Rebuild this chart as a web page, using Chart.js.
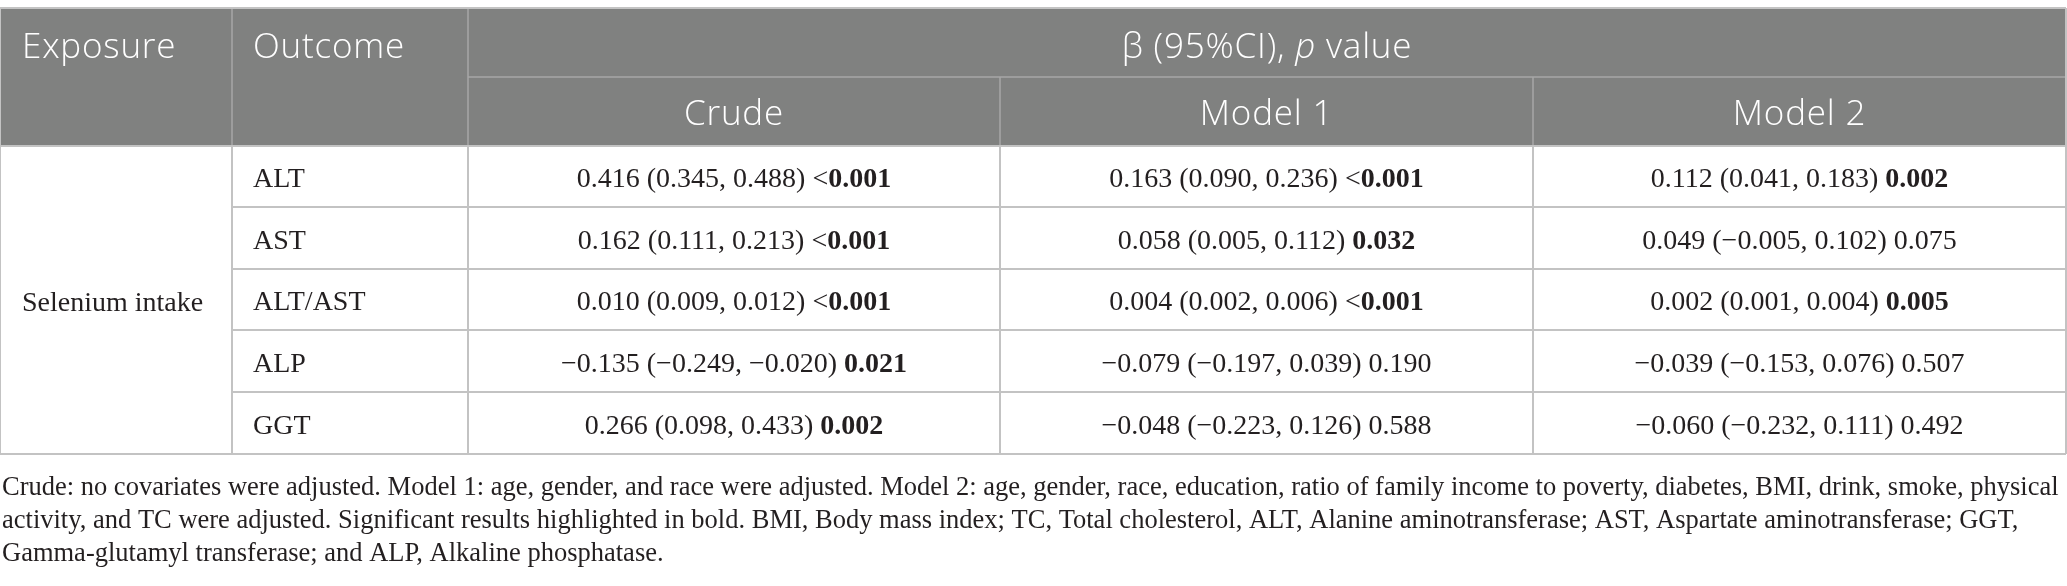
<!DOCTYPE html>
<html>
<head>
<meta charset="utf-8">
<script src="https://cdn.jsdelivr.net/npm/chart.js@4.4.1/dist/chart.umd.min.js"></script>
<style>
  html, body { margin: 0; padding: 0; background: #ffffff; }
  #wrap { width: 2067px; height: 586px; }
</style>
</head>
<body>
<div id="wrap"><canvas id="c" width="2067" height="586"></canvas></div>
<script>
// ---------- DATA ----------
const exposure = 'Selenium intake';
const outcomes = ['ALT', 'AST', 'ALT/AST', 'ALP', 'GGT'];
const models = ['Crude', 'Model 1', 'Model 2'];

const crudeBeta = [0.416, 0.162, 0.010, -0.135, 0.266];
const crudeLow  = [0.345, 0.111, 0.009, -0.249, 0.098];
const crudeHigh = [0.488, 0.213, 0.012, -0.020, 0.433];
const crudeP    = ['<0.001', '<0.001', '<0.001', '0.021', '0.002'];

const model1Beta = [0.163, 0.058, 0.004, -0.079, -0.048];
const model1Low  = [0.090, 0.005, 0.002, -0.197, -0.223];
const model1High = [0.236, 0.112, 0.006, 0.039, 0.126];
const model1P    = ['<0.001', '0.032', '<0.001', '0.190', '0.588'];

const model2Beta = [0.112, 0.049, 0.002, -0.039, -0.060];
const model2Low  = [0.041, -0.005, 0.001, -0.153, -0.232];
const model2High = [0.183, 0.102, 0.004, 0.076, 0.111];
const model2P    = ['0.002', '0.075', '0.005', '0.507', '0.492'];

const headerExposure = 'Exposure';
const headerOutcome = 'Outcome';
const captionLines = [
  'Crude: no covariates were adjusted. Model 1: age, gender, and race were adjusted. Model 2: age, gender, race, education, ratio of family income to poverty, diabetes, BMI, drink, smoke, physical',
  'activity, and TC were adjusted. Significant results highlighted in bold. BMI, Body mass index; TC, Total cholesterol, ALT, Alanine aminotransferase; AST, Aspartate aminotransferase; GGT,',
  'Gamma-glutamyl transferase; and ALP, Alkaline phosphatase.'
];

// ---------- LAYOUT (scale units) ----------
const colEdges = [0, 232, 468, 1000, 1533, 2066];
const headerEdges = [8, 77, 146];
const headerBaselines = [58, 125];
const rowEdges = [146, 207, 269, 330, 392, 454];
const captionBaselines = [495, 528, 561];

const modelData = [
  {beta: crudeBeta, low: crudeLow, high: crudeHigh, p: crudeP},
  {beta: model1Beta, low: model1Low, high: model1High, p: model1P},
  {beta: model2Beta, low: model2Low, high: model2High, p: model2P}
];

function fmt(v) {
  const s = Math.abs(v).toFixed(3);
  return (v < 0 ? '\u2212' : '') + s;
}

const SANS = '"Open Sans", "Noto Sans", sans-serif';
const SERIF = '"Liberation Serif", "DejaVu Serif", serif';
const HEADER_BG = '#808180';
const HEADER_LINE = '#a6a6a6';
const GRID = '#c3c3c3';
const HFONT = '300 35px ' + SANS;
const HFONT_I = 'italic 300 35px ' + SANS;
const HSPACING = '0.8px';

const tablePlugin = {
  id: 'tablePlugin',
  afterDraw(chart) {
    const ctx = chart.ctx;
    const xs = chart.scales.x, ys = chart.scales.y;
    const X = v => xs.getPixelForValue(v);
    const Y = v => ys.getPixelForValue(v);
    const cx = colEdges.map(X);
    const hy = headerEdges.map(Y);
    const ry = rowEdges.map(Y);
    ctx.save();

    // header background
    ctx.fillStyle = HEADER_BG;
    ctx.fillRect(cx[0], hy[0], cx[5] - cx[0], hy[2] - hy[0]);

    // header internal lines
    ctx.strokeStyle = HEADER_LINE;
    ctx.lineWidth = 1.5;
    ctx.beginPath();
    ctx.moveTo(cx[2], hy[1]); ctx.lineTo(cx[5], hy[1]);
    ctx.moveTo(cx[1], hy[0]); ctx.lineTo(cx[1], hy[2]);
    ctx.moveTo(cx[2], hy[0]); ctx.lineTo(cx[2], hy[2]);
    ctx.moveTo(cx[3], hy[1]); ctx.lineTo(cx[3], hy[2]);
    ctx.moveTo(cx[4], hy[1]); ctx.lineTo(cx[4], hy[2]);
    ctx.stroke();

    // body grid
    ctx.strokeStyle = GRID;
    ctx.lineWidth = 2;
    ctx.beginPath();
    ctx.moveTo(cx[0], hy[0]); ctx.lineTo(cx[5], hy[0]);
    ctx.moveTo(cx[0], ry[0]); ctx.lineTo(cx[5], ry[0]);
    for (let i = 1; i < ry.length - 1; i++) {
      ctx.moveTo(cx[1], ry[i]); ctx.lineTo(cx[5], ry[i]);
    }
    ctx.moveTo(cx[0], ry[ry.length - 1]); ctx.lineTo(cx[5], ry[ry.length - 1]);
    for (let j = 0; j < cx.length; j++) {
      ctx.moveTo(cx[j], ry[0]); ctx.lineTo(cx[j], ry[ry.length - 1]);
    }
    ctx.moveTo(cx[0], hy[0]); ctx.lineTo(cx[0], hy[2]);
    ctx.moveTo(cx[5], hy[0]); ctx.lineTo(cx[5], hy[2]);
    ctx.stroke();

    // header text
    ctx.fillStyle = '#ffffff';
    ctx.textBaseline = 'alphabetic';
    if ('letterSpacing' in ctx) ctx.letterSpacing = HSPACING;
    ctx.font = HFONT;
    const h1b = Y(headerBaselines[0]);
    const h2b = Y(headerBaselines[1]);
    ctx.textAlign = 'left';
    ctx.fillText(headerExposure, cx[0] + 22, h1b);
    ctx.fillText(headerOutcome, cx[1] + 21, h1b);
    const partA = '\u03B2 (95%CI), ';
    const partB = 'p';
    const partC = ' value';
    ctx.font = HFONT;
    const wA = ctx.measureText(partA).width;
    const wC = ctx.measureText(partC).width;
    ctx.font = HFONT_I;
    const wB = ctx.measureText(partB).width;
    let bx = (cx[2] + cx[5]) / 2 - (wA + wB + wC) / 2;
    ctx.font = HFONT;
    ctx.fillText(partA, bx, h1b);
    ctx.font = HFONT_I;
    ctx.fillText(partB, bx + wA, h1b);
    ctx.font = HFONT;
    ctx.fillText(partC, bx + wA + wB, h1b);
    ctx.textAlign = 'center';
    models.forEach((m, j) => {
      ctx.fillText(m, (cx[j + 2] + cx[j + 3]) / 2, h2b);
    });
    if ('letterSpacing' in ctx) ctx.letterSpacing = '0px';

    // body text
    ctx.fillStyle = '#231f20';
    const REG = '28px ' + SERIF;
    const BOLD = 'bold 28px ' + SERIF;
    const BOFF = 10.5;
    ctx.textAlign = 'left';
    ctx.font = REG;
    ctx.fillText(exposure, cx[0] + 22, (ry[0] + ry[ry.length - 1]) / 2 + BOFF);
    outcomes.forEach((o, i) => {
      const yb = (ry[i] + ry[i + 1]) / 2 + BOFF;
      ctx.font = REG;
      ctx.fillText(o, cx[1] + 21, yb);
      modelData.forEach((md, j) => {
        const pStr = md.p[i];
        const sig = pStr.startsWith('<') || parseFloat(pStr) < 0.05;
        const pre = pStr.startsWith('<') ? '<' : '';
        const pNum = pStr.replace('<', '');
        const txt = fmt(md.beta[i]) + ' (' + fmt(md.low[i]) + ', ' + fmt(md.high[i]) + ') ' + pre;
        ctx.font = REG;
        const w1 = ctx.measureText(txt).width;
        ctx.font = sig ? BOLD : REG;
        const w2 = ctx.measureText(pNum).width;
        let x0 = (cx[j + 2] + cx[j + 3]) / 2 - (w1 + w2) / 2;
        ctx.font = REG;
        ctx.fillText(txt, x0, yb);
        ctx.font = sig ? BOLD : REG;
        ctx.fillText(pNum, x0 + w1, yb);
      });
    });

    // caption
    ctx.font = '26.5px ' + SERIF;
    ctx.textAlign = 'left';
    captionLines.forEach((line, k) => {
      ctx.fillText(line, cx[0] + 2, Y(captionBaselines[k]));
    });
    ctx.restore();
  }
};

new Chart(document.getElementById('c'), {
  type: 'scatter',
  data: { datasets: [] },
  options: {
    responsive: false,
    animation: false,
    devicePixelRatio: 1,
    layout: { padding: 0 },
    plugins: { legend: { display: false }, tooltip: { enabled: false }, title: { display: false } },
    scales: {
      x: { type: 'linear', min: 0, max: 2067, display: false },
      y: { type: 'linear', min: 0, max: 586, reverse: true, display: false }
    }
  },
  plugins: [tablePlugin]
});
</script>
</body>
</html>
